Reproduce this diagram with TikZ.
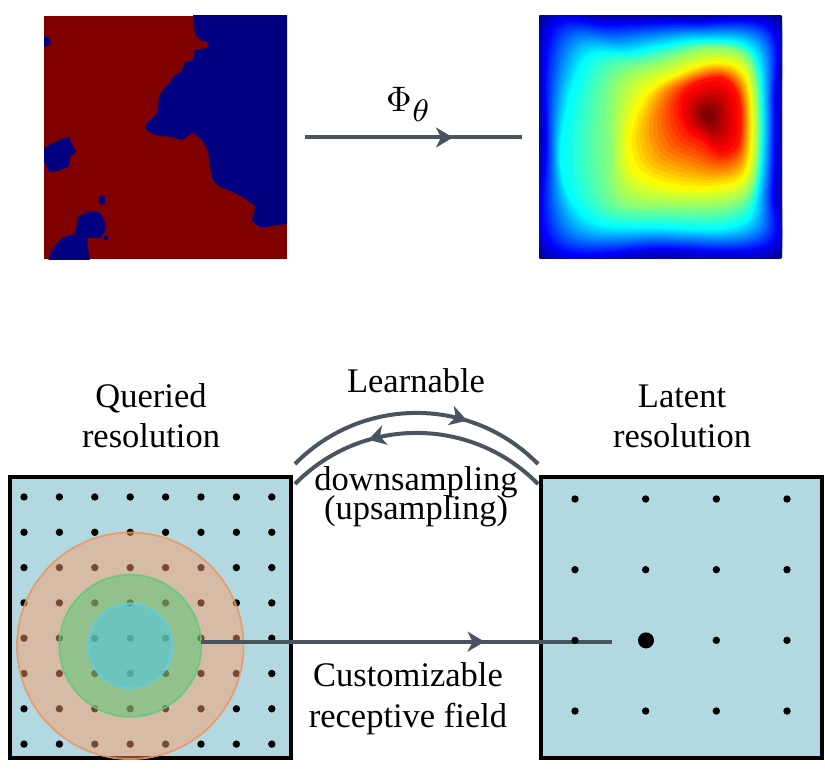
\documentclass[tikz,border=0pt]{standalone}
\usepackage[no-math]{fontspec}
\setmainfont{Liberation Serif}
\usetikzlibrary{arrows.meta,decorations.markings,calc}

\definecolor{slate}{RGB}{74,84,96}
\definecolor{gridbg}{RGB}{178,216,226}
\definecolor{maroonc}{RGB}{128,0,0}
\definecolor{navyc}{RGB}{0,0,128}
\definecolor{rfo}{RGB}{255,157,102}
\definecolor{rfoe}{RGB}{236,150,96}
\definecolor{rfg}{RGB}{67,200,106}
\definecolor{rfge}{RGB}{100,200,125}
\definecolor{rfc}{RGB}{70,200,240}
\definecolor{rfce}{RGB}{100,205,225}

\newcommand{\jetband}[5]{%
  \foreach \k in {0,...,#5}{%
    \pgfmathsetmacro{\jt}{\k/#5}%
    \pgfmathsetmacro{\jl}{#3+(#4-#3)*\jt}%
    \pgfmathsetmacro{\jr}{max(0,min(1,1.5-abs(4*\jl-3)))}%
    \pgfmathsetmacro{\jg}{max(0,min(1,1.5-abs(4*\jl-2)))}%
    \pgfmathsetmacro{\jb}{max(0,min(1,1.5-abs(4*\jl-1)))}%
    \definecolor{jetc}{rgb}{\jr,\jg,\jb}%
    \fill[jetc] plot[smooth cycle,tension=0.6] coordinates {($(#1-1)!\jt!(#2-1)$) ($(#1-2)!\jt!(#2-2)$) ($(#1-3)!\jt!(#2-3)$) ($(#1-4)!\jt!(#2-4)$) ($(#1-5)!\jt!(#2-5)$) ($(#1-6)!\jt!(#2-6)$) ($(#1-7)!\jt!(#2-7)$) ($(#1-8)!\jt!(#2-8)$) ($(#1-9)!\jt!(#2-9)$) ($(#1-10)!\jt!(#2-10)$)};%
  }}

\newcommand{\shapepts}[2]{%
  \foreach \px/\py [count=\n] in {#2}{\coordinate (#1-\n) at (\px,\py);}}

\tikzset{
  conn/.style={color=slate, line width=4pt},
  midarrow/.style={postaction={decorate}, decoration={markings,
      mark=at position #1 with {\arrow{Stealth[length=17pt,width=20pt,inset=5pt]}}}},
  lbl/.style={font=\fontsize{34.5}{40}\selectfont, inner sep=0pt, anchor=base},
  gridsq/.style={draw=black, fill=gridbg, line width=4pt, minimum size=281pt, inner sep=0pt},
  dotc/.style={fill=black},
}

\begin{document}
\begin{tikzpicture}[x=1pt,y=-1pt]
\useasboundingbox (0,0) rectangle (825,773);

% ---------- top-left image ----------
\begin{scope}
\clip (44,16) rectangle (287,259);
\fill[maroonc] (44,16) rectangle (287,259);
\fill[navyc] plot[smooth, tension=0.3] coordinates {(193,14) (195,33) (200,40) (207,42) (207,48) (195,50) (193,60) (185,62) (182,70) (173,77) (170,82) (163,90) (159,97) (157,113) (148,122) (145,128) (155,135) (172,137) (182,140) (192,133) (202,140) (208,152) (210,167) (213,180) (220,187) (233,192) (247,200) (255,207) (252,220) (260,227) (273,226) (290,223)} -- (290,14) -- cycle;
\fill[navyc] plot[smooth cycle, tension=0.4] coordinates {(42,150) (53,143) (68,137) (73,147) (76,152) (70,157) (68,167) (50,172) (46,165) (42,158)};
\fill[navyc] (42,36) -- (48,37) -- (51,42) -- (48,46) -- (42,47) -- cycle;
\fill[navyc] plot[smooth, tension=0.4] coordinates {(48,261) (52,250) (62,238) (75,233) (78,217) (90,212) (100,213) (106,227) (100,238) (88,238) (88,248) (90,261)} -- cycle;
\fill[navyc] (102,200) ellipse[x radius=3.5pt, y radius=5pt];
\fill[navyc] (106,238) circle[radius=2.5pt];
\end{scope}

% ---------- top-right image (jet heat map) ----------
\shapepts{sa}{539/16,610/13,700/13,782/16,786/100,786/190,782/258,660/262,539/258,535/140}
\shapepts{sb}{549/27,610/22,690/21,771/26,776/100,775/190,769/248,660/251,549/248,545/140}
\shapepts{sc}{582/62,630/52,700/40,752/50,763/110,758/190,738/226,660/228,588/220,560/160}
\shapepts{sd}{617/82,660/62,710/48,748/60,758/120,752/185,725/205,660/207,618/198,611/145}
\shapepts{se}{645/95,680/73,718/62,745/75,752/125,745/175,715/188,670/187,636/172,628/138}
\shapepts{sf}{683/92,702/80,724/78,738/95,741/125,736/148,720/155,702/142,687/133,678/112}
\shapepts{sg}{705/111,709/109,713/111,715/114,714/118,712/122,709/123,706/121,704/118,703/114}
\begin{scope}
\clip (539,16) rectangle (782,258);
\fill[navyc] (539,16) rectangle (782,258);
\jetband{sa}{sb}{0.02}{0.11}{4}
\jetband{sb}{sc}{0.11}{0.375}{14}
\jetband{sc}{sd}{0.375}{0.52}{8}
\jetband{sd}{se}{0.52}{0.63}{6}
\jetband{se}{sf}{0.63}{0.86}{12}
\jetband{sf}{sg}{0.86}{1.0}{8}
\end{scope}

% ---------- Phi arrow ----------
\coordinate (phiA) at (305,137.5);
\coordinate (phiB) at (522,137.5);
\draw[conn, midarrow=0.682] (phiA) -- (phiB);
\node[scale=3.55, anchor=base west, inner sep=0pt] (phi) at (385.5,111.7) {$\Phi_{\scalebox{1.25}{$\scriptstyle\theta$}}$};

% ---------- bottom squares ----------
\node[gridsq] (qsq) at (150.5,617.5) {};
\node[gridsq] (lsq) at (681,617.5) {};

% left grid dots
\foreach \i in {0,...,7}{
  \foreach \j in {0,...,7}{
    \fill[dotc] (24+35.4*\i, 497+35.3*\j) circle[radius=3.7pt];
  }}

% receptive field circles
\fill[rfo, fill opacity=0.47] (130.3,645.8) circle[radius=113.3pt];
\draw[rfoe, line width=1.8pt, draw opacity=0.85] (130.3,645.8) circle[radius=113.3pt];
\fill[rfg, fill opacity=0.45] (130.3,645.8) circle[radius=71pt];
\draw[rfge, line width=1.8pt, draw opacity=0.85] (130.3,645.8) circle[radius=71pt];
\fill[rfc, fill opacity=0.5] (130.3,645.8) circle[radius=42.3pt];
\draw[rfce, line width=1.8pt, draw opacity=0.85] (130.3,645.8) circle[radius=42.3pt];

% receptive field arrow
\coordinate (rfA) at (201,641.7);
\coordinate (rfB) at (612,641.7);
\draw[conn, midarrow=0.69] (rfA) -- (rfB);

% right grid dots
\foreach \i in {0,...,3}{
  \foreach \j in {0,...,3}{
    \fill[dotc] (575+70.67*\i, 499+70.67*\j) circle[radius=3.7pt];
  }}
\node[circle, fill=black, inner sep=0pt, minimum size=16pt] (bigdot) at (646,640.4) {};

% sampling arcs
\coordinate (arcLo) at (295,464);
\coordinate (arcRo) at (538,464);
\coordinate (arcLi) at (295,484);
\coordinate (arcRi) at (538,484);
\draw[conn, midarrow=0.69] (arcLo) .. controls (361.7,395.9) and (471.3,395.9) .. (arcRo);
\draw[conn, midarrow=0.68] (arcRi) .. controls (471.3,415.9) and (361.7,415.9) .. (arcLi);

% labels
\node[lbl] (q1) at (151,407) {Queried};
\node[lbl] (q2) at (151,447) {resolution};
\node[lbl] (l1) at (682,407) {Latent};
\node[lbl] (l2) at (682,447) {resolution};
\node[lbl] (learn) at (416,392) {Learnable};
\node[lbl] (down) at (416,490) {downsampling};
\node[lbl] (up) at (416,519) {(upsampling)};
\node[lbl] (cust) at (408,686) {Customizable};
\node[lbl] (recep) at (408,727) {receptive field};
\end{tikzpicture}
\end{document}
